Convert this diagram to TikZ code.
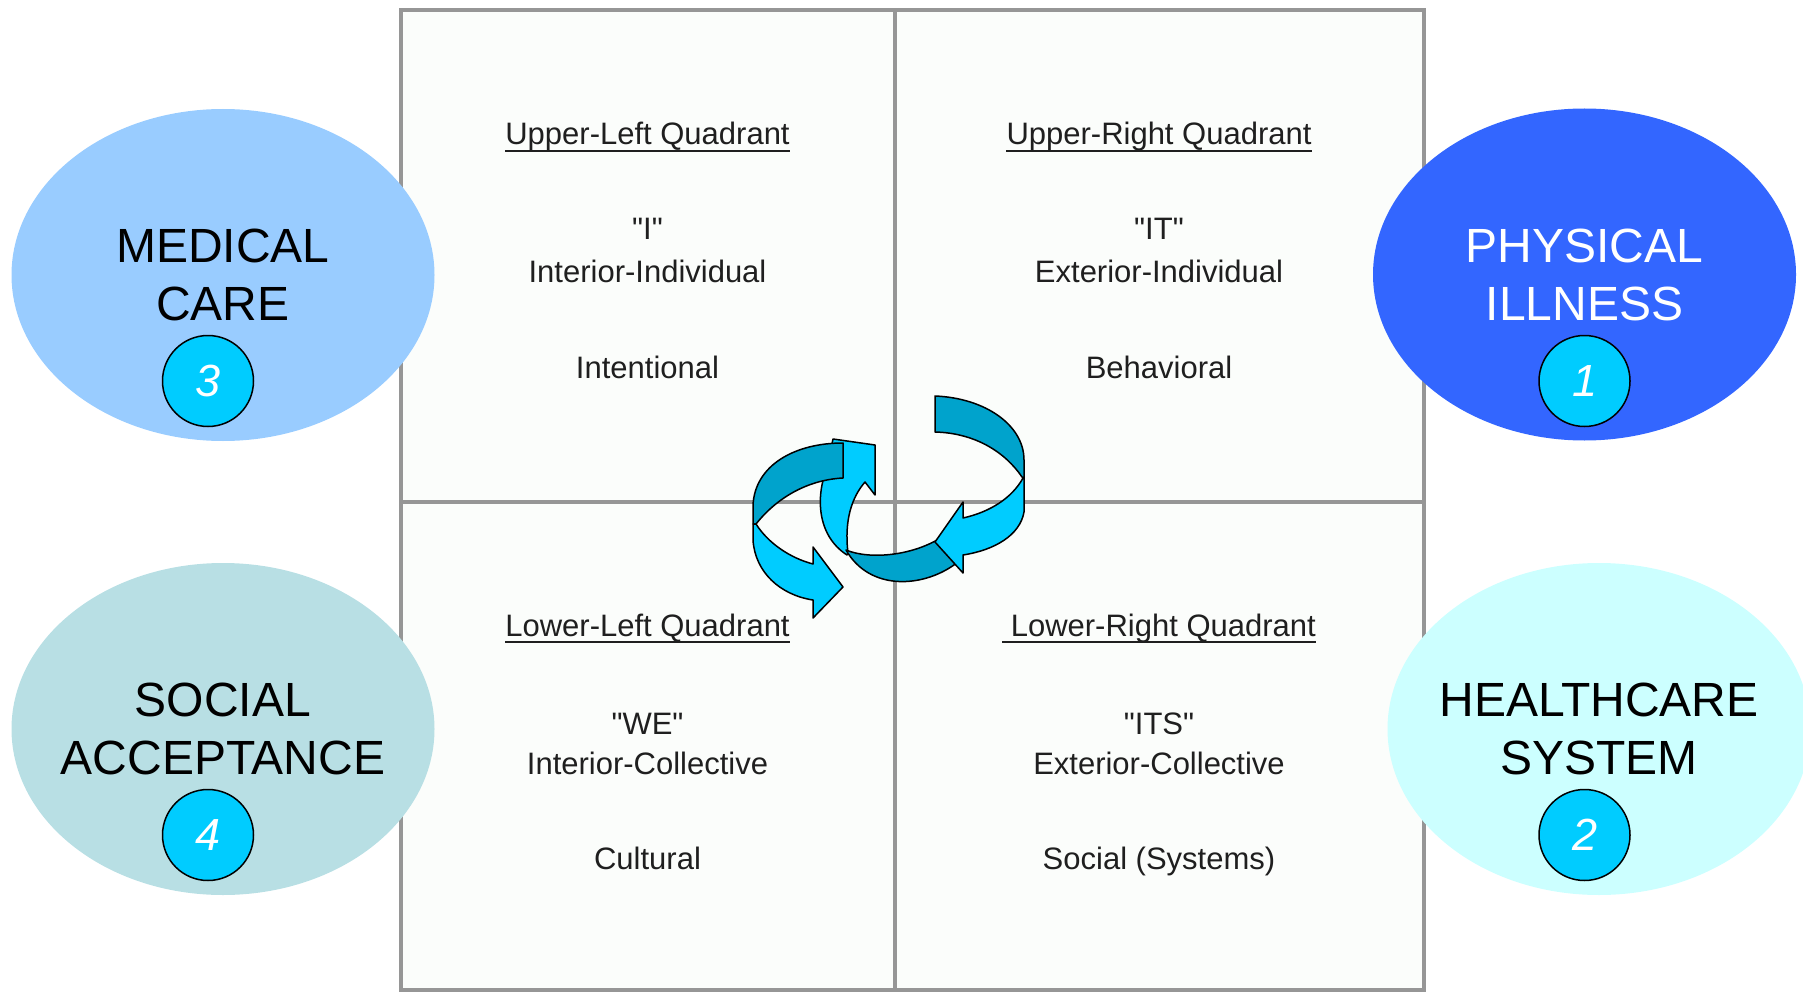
\documentclass[tikz,border=0pt]{standalone}
\usepackage{fontspec}
\setmainfont{Liberation Sans}[Ligatures = TeXOff]
\usetikzlibrary{shapes.geometric}

\definecolor{medblue}{RGB}{153,204,255}
\definecolor{socteal}{RGB}{184,223,228}
\definecolor{physblue}{RGB}{51,102,255}
\definecolor{healthcyan}{RGB}{204,255,255}
\definecolor{numcyan}{RGB}{0,204,255}
\definecolor{banddark}{RGB}{0,163,204}
\definecolor{bandlight}{RGB}{0,204,255}
\definecolor{gridgray}{RGB}{150,150,150}
\definecolor{quadfill}{RGB}{251,253,251}

\begin{document}
\begin{tikzpicture}[%
        x = 1pt,
        y = -1pt,
        blob/.style = {ellipse, minimum width = 423pt, minimum height = 332pt,
            inner xsep = -20pt, inner ysep = 0pt, align = center,
            font = \fontsize{48}{58}\selectfont},
        num/.style = {circle, draw = black, line width = 1.5pt, fill = numcyan,
            minimum size = 91pt, inner sep = 0pt, text = white,
            font = \fontsize{45}{45}\selectfont\itshape},
        qtext/.style = {anchor = base, inner sep = 0pt, text = black!88,
            font = \fontsize{31}{37}\selectfont},
        uline/.style = {line width = 2pt, black!88},
        band/.style = {draw = black, line width = 1.5pt, line join = round}
    ]

        \useasboundingbox (0, 0) rectangle (1803, 992);

        % Draw the four quadrants.
        \begin{scope}[line width = 4pt, draw = gridgray]
            \draw[fill = quadfill] (400.5, 10) rectangle (1424, 990);
            \draw (894.5, 10) to (894.5, 990);
            \draw (400.5, 501.5) to (1424, 501.5);
        \end{scope}

        % Label the quadrants, one column of text each.
        \foreach \qx/\qy/\qq/\qn/\qtitle/\qquote/\qside/\qkind in {%
            647.5/0/240/ul/{Upper-Left Quadrant}/{"I"}/{Interior-Individual}/{Intentional},
            1159/0/240/ur/{Upper-Right Quadrant}/{"IT"}/{Exterior-Individual}/{Behavioral},
            647.5/491/734/ll/{Lower-Left Quadrant}/{"WE"}/{Interior-Collective}/{Cultural},
            1159/491/734/lr/{\ Lower-Right Quadrant}/{"ITS"}/{Exterior-Collective}/{Social (Systems)}%
        }{%
            \node[qtext] (\qn-title) at (\qx, 145 + \qy) {\qtitle};
            \draw[uline] ([yshift = -6pt]\qn-title.base west)
                to ([yshift = -6pt]\qn-title.base east);
            \node[qtext] (\qn-quote) at (\qx, \qq) {\qquote};
            \node[qtext] (\qn-side) at (\qx, 283 + \qy) {\qside};
            \node[qtext] (\qn-kind) at (\qx, 378 + \qy) {\qkind};
        }

        % Draw the twisted arrows in the middle, back parts first.
        \begin{scope}[band]
            % Rising head of the middle arrow.
            \draw[fill = bandlight] (847, 555) .. controls (816, 535) and (816, 495) .. (827, 468)
                -- (833, 439) -- (875, 445) -- (875, 495) -- (865, 482)
                .. controls (852, 497) and (844, 520) .. (848, 553) -- cycle;

            % Left arrow.
            \draw[fill = banddark] (843, 443) .. controls (795, 443) and (755, 465) .. (753, 505)
                -- (753, 524) -- (756, 524)
                .. controls (775, 500) and (805, 480) .. (843, 478) -- cycle;
            \draw[fill = bandlight] (756, 524) -- (753, 524) -- (753, 540)
                .. controls (755, 572) and (780, 595) .. (813, 600)
                -- (813, 618) -- (843, 587) -- (813, 547) -- (813, 564)
                .. controls (790, 558) and (768, 543) .. (756, 524) -- cycle;

            % Bottom of the middle arrow.
            \draw[fill = banddark] (846, 550) .. controls (870, 560) and (915, 556) .. (945, 535)
                -- (958, 527) -- (958, 562)
                .. controls (925, 588) and (870, 592) .. (846, 550) -- cycle;

            % Right arrow.
            \draw[fill = bandlight] (1023, 478) -- (1024, 478) -- (1024, 512)
                .. controls (1020, 535) and (995, 550) .. (963, 555)
                -- (963, 573) -- (935, 542) -- (963, 502) -- (963, 518)
                .. controls (990, 512) and (1012, 498) .. (1023, 478) -- cycle;
            \draw[fill = banddark] (935, 396) .. controls (985, 398) and (1024, 425) .. (1024, 460)
                -- (1024, 478) -- (1022, 477)
                .. controls (1005, 452) and (975, 433) .. (935, 432) -- cycle;
        \end{scope}

        % Place the four factors round the quadrants.
        \node[blob, fill = medblue] (med) at (223, 275) {MEDICAL\\CARE};
        \node[blob, fill = socteal] (soc) at (223, 729) {SOCIAL\\ACCEPTANCE};
        \node[blob, fill = physblue, text = white] (phys) at (1584.5, 274.5) {PHYSICAL\\ILLNESS};
        \node[blob, fill = healthcyan] (health) at (1599, 729) {HEALTHCARE\\SYSTEM};

        % Number the factors.
        \node[num] (n1) at (1584.5, 381) {1};
        \node[num] (n2) at (1584.5, 835) {2};
        \node[num] (n3) at (208, 381) {3};
        \node[num] (n4) at (208, 835) {4};
    \end{tikzpicture}
\end{document}
